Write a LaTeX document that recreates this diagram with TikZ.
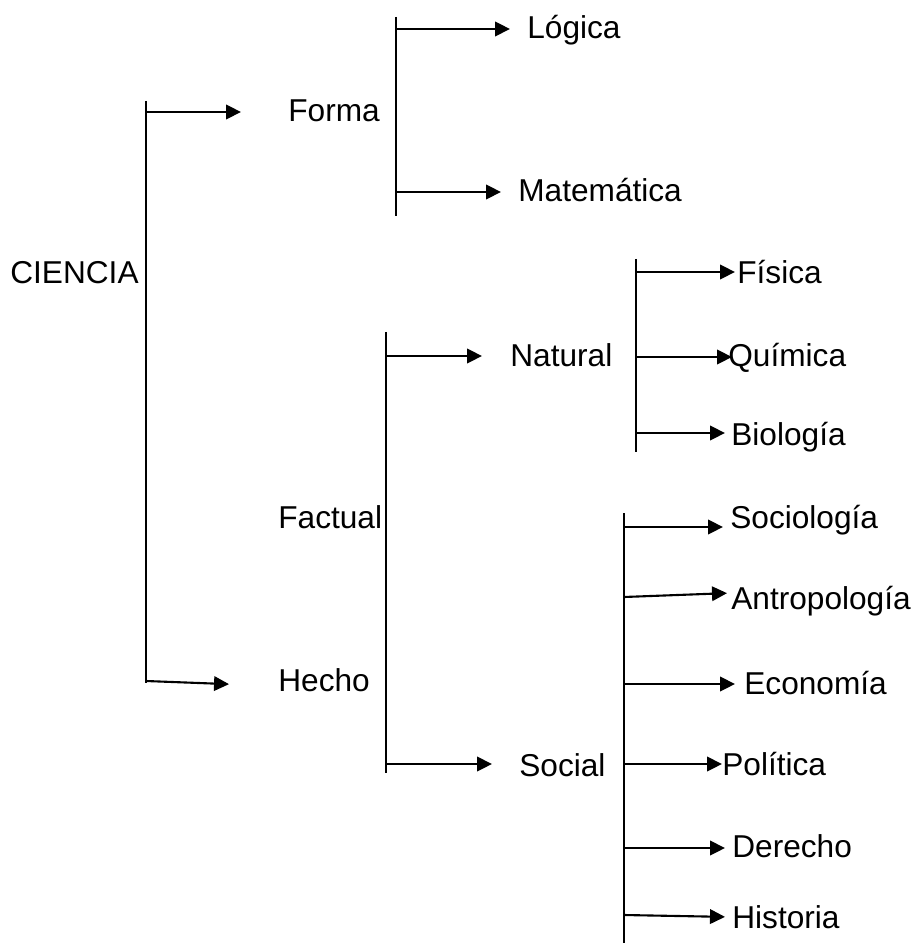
\documentclass[tikz,border=0pt]{standalone}
\usepackage{fontspec}
\setmainfont{Liberation Sans}
\usetikzlibrary{positioning,arrows.meta}

\begin{document}
\begin{tikzpicture}
            [%%%%%%%%%%%%%%%%%%%%%%%%%%%%%%%%%%%%%%%%%%%%%%%%%%%%%%%%%%
                x=0.02cm,y=-0.02cm,>={Triangle[length=0.3cm,width=0.29cm]},
                rama/.style={line width=1.2pt},
                flecha/.style={->,line width=1.2pt},
                tema/.style={inner sep=0pt,anchor=west,text height=13pt,text depth=0pt,
                             font=\fontsize{18}{20}\selectfont}
            ]%%%%%%%%%%%%%%%%%%%%%%%%%%%%%%%%%%%%%%%%%%%%%%%%%%%%%%%%%%
            \useasboundingbox (0,0) rectangle (913,945);

            \node[tema] (ciencia) at (10,272) {CIENCIA};
            \node[tema] (forma) at (288,110) {Forma};
            \node[tema] (hecho) at (278,680) {Hecho};
            \node[tema] (factual) at (278,517) {Factual};
            \node[tema] (logica) at (527,27) {Lógica};
            \node[tema] (mate) at (518,190) {Matemática};
            \node[tema] (natural) at (510,355) {Natural};
            \node[tema] (social) at (519,765) {Social};
            \node[tema] (fisica) at (737,272) {Física};
            \node[tema] (quimica) at (728,355) {Química};
            \node[tema] (biologia) at (731,434) {Biología};
            \node[tema] (socio) at (730,517) {Sociología};
            \node[tema] (antro) at (731,598) {Antropología};
            \node[tema] (econo) at (744,683) {Economía};
            \node[tema] (politica) at (722,764) {Política};
            \node[tema] (derecho) at (732,846) {Derecho};
            \node[tema] (historia) at (732,917) {Historia};

            % llaves
            \coordinate (f0) at (146,112);
            \coordinate (h0) at (146,681);
            \draw[rama] (146,101) -- (146,683);
            \coordinate (l0) at (396,29);
            \coordinate (m0) at (396,192);
            \draw[rama] (396,17) -- (396,216);
            \coordinate (n0) at (386,356);
            \coordinate (s0) at (386,764);
            \draw[rama] (386,332) -- (386,773);
            \coordinate (fi0) at (636,272);
            \coordinate (qu0) at (636,357);
            \coordinate (bi0) at (636,433);
            \draw[rama] (636,259) -- (636,452);
            \coordinate (so0) at (624,527);
            \coordinate (an0) at (624,597);
            \coordinate (ec0) at (624,684);
            \coordinate (po0) at (624,764);
            \coordinate (de0) at (624,848);
            \coordinate (hi0) at (624,915);
            \draw[rama] (624,513) -- (624,943);

            \draw[flecha,shorten >=0.94cm] (f0) -- (f0 -| forma.west);
            \draw[flecha,shorten >=0.98cm] (h0) -- ([yshift=-0.1cm]h0 -| hecho.west);
            \draw[flecha,shorten >=0.34cm] (l0) -- (l0 -| logica.west);
            \draw[flecha,shorten >=0.34cm] (m0) -- (m0 -| mate.west);
            \draw[flecha,shorten >=0.56cm] (n0) -- (n0 -| natural.west);
            \draw[flecha,shorten >=0.54cm] (s0) -- (s0 -| social.west);
            \draw[flecha,shorten >=0.04cm] (fi0) -- (fi0 -| fisica.west);
            \draw[flecha,shorten >=-0.08cm] (qu0) -- (qu0 -| quimica.west);
            \draw[flecha,shorten >=0.12cm] (bi0) -- (bi0 -| biologia.west);
            \draw[flecha,shorten >=0.14cm] (so0) -- (so0 -| socio.west);
            \draw[flecha,shorten >=0.08cm] (an0) -- ([yshift=0.08cm]an0 -| antro.west);
            \draw[flecha,shorten >=0.18cm] (ec0) -- (ec0 -| econo.west);
            \draw[flecha] (po0) -- (po0 -| politica.west);
            \draw[flecha,shorten >=0.14cm] (de0) -- (de0 -| derecho.west);
            \draw[flecha,shorten >=0.14cm] (hi0) -- ([yshift=-0.04cm]hi0 -| historia.west);
        \end{tikzpicture}
\end{document}
